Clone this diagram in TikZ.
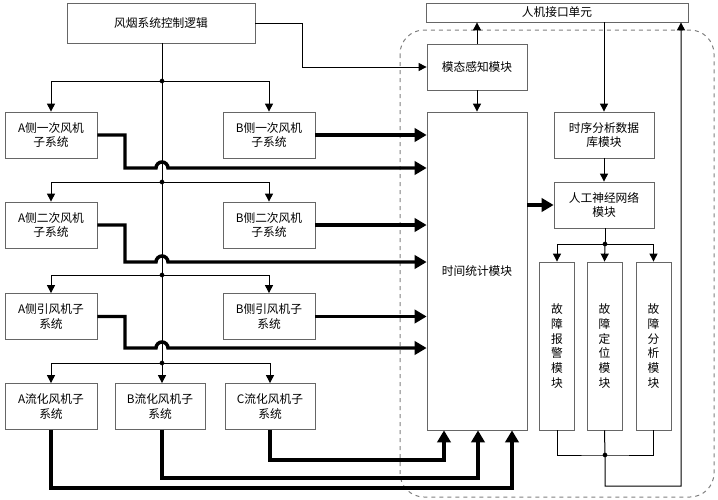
\documentclass[tikz,border=0pt]{standalone}
\usepackage{fontspec}
\newfontfamily\cjk{Noto Sans CJK SC}
\usetikzlibrary{arrows.meta}
\tikzset{every picture/.style={line width=0.75pt}}
\tikzset{
  box/.style={draw=gray!80!black, line width=0.6pt, inner sep=0pt, align=center, font=\cjk\fontsize{8.8}{11}\selectfont, minimum width=69pt, minimum height=34.5pt},
  thin/.style={line width=0.75pt, -{Triangle[length=6pt,width=6pt]}},
  thick/.style={line width=2.6pt, -{Triangle[length=9pt,width=10pt]}},
  dot/.style={circle, fill, inner sep=0pt, minimum size=3.5pt},
}
\begin{document}
\begin{tikzpicture}[x=0.75pt,y=0.75pt,yscale=-1,xscale=1]
	\useasboundingbox (0,0) rectangle (718,500);

	% Dashed frame
	\draw [gray, dashed, rounded corners=18pt] (400,30) rectangle (714,497);

	% Boxes
	\node [box, minimum width=141pt, minimum height=30pt] (ctrl) at (161,23) {风烟系统控制逻辑};
	\node [box] (A1) at (51,135) {A侧一次风机\\子系统};
	\node [box] (B1) at (269,135) {B侧一次风机\\子系统};
	\node [box] (A2) at (51,225) {A侧二次风机\\子系统};
	\node [box] (B2) at (269,225) {B侧二次风机\\子系统};
	\node [box] (A3) at (51,316.5) {A侧引风机子\\系统};
	\node [box] (B3) at (269,316.5) {B侧引风机子\\系统};
	\node [box] (FA) at (51,406.5) {A流化风机子\\系统};
	\node [box, minimum width=67.5pt] (FB) at (160,406.5) {B流化风机子\\系统};
	\node [box, minimum width=67.5pt] (FC) at (270,406.5) {C流化风机子\\系统};
	\node [box, minimum width=196.5pt, minimum height=14.25pt] (hmi) at (557,12.5) {人机接口单元};
	\node [box, minimum width=75pt] (mode) at (477,67) {模态感知模块};
	\node [box, minimum width=75pt, minimum height=238.5pt] (time) at (477,271) {时间统计模块};
	\node [box, minimum width=75pt] (seq) at (604,135) {时序分析数据\\库模块};
	\node [box, minimum width=75pt] (ann) at (604,205) {人工神经网络\\模块};
	\node [box, minimum width=26.25pt, minimum height=126pt] (f1) at (557,346) {故\\障\\报\\警\\模\\块};
	\node [box, minimum width=26.25pt, minimum height=126pt] (f2) at (604.5,346) {故\\障\\定\\位\\模\\块};
	\node [box, minimum width=26.25pt, minimum height=126pt] (f3) at (653.5,346) {故\\障\\分\\析\\模\\块};

	% Control trunk and branches
	\coordinate (j1) at (162,81);
	\coordinate (j2) at (162,182);
	\coordinate (j3) at (162,275);
	\coordinate (j4) at (162,363);
	\draw [thin] (ctrl.south -| j1) -- (FB.north -| j1);
	\foreach \j/\l/\r in {j1/A1/B1, j2/A2/B2, j3/A3/B3} {
		\draw [thin] (\j) -| (\l.north);
		\draw [thin] (\j) -| (\r.north);
		\node [dot] at (\j) {};
	}
	\draw [thin] (j4) -| (FA.north);
	\draw [thin] (j4) -| (FC.north);
	\node [dot] at (j4) {};
	\draw [thin] (ctrl.east) -- (302,23) |- (mode.west);

	% Thick signal lines
	\foreach \b in {B1, B2, B3}
		\draw [thick] (\b.east) -- (\b.east -| time.west);
	\foreach \a/\y in {A1/168, A2/262, A3/348}
		\draw [thick] (\a.east) -- (\a.east -| 125,0) -- (125,\y) -- (156,\y)
			arc [start angle=180, end angle=360, radius=6] -- (time.west |- 0,\y);
	\draw [thick] (FC.south) |- (444,460) -- (time.south -| 444,0);
	\draw [thick] (FB.south -| 162,0) |- (478,478) -- (time.south -| 478,0);
	\draw [thick] (FA.south) |- (512,488) -- (time.south -| 512,0);
	\draw [thick] (time.east |- ann.west) -- (ann.west);

	% Right side
	\draw [thin] (mode.south) -- (time.north);
	\draw [thin] (mode.north) -- (hmi.south -| mode.north);
	\draw [thin] (hmi.south -| seq.north) -- (seq.north);
	\draw [thin] (seq.south) -- (ann.north);
	\coordinate (j5) at (605,244);
	\draw (ann.south -| j5) -- (j5);
	\draw [thin] (j5) -| (f1.north);
	\draw [thin] (j5) -| (f3.north);
	\draw [thin] (j5) -- (f2.north);
	\node [dot] at (j5) {};
	\coordinate (j6) at (605,455);
	\draw (f1.south) |- (j6) -| (f3.south);
	\draw [thin] (f2.south) -- (j6) -- (605,486) -| (hmi.south -| 681,0);
	\node [dot] at (j6) {};
\end{tikzpicture}
\end{document}
